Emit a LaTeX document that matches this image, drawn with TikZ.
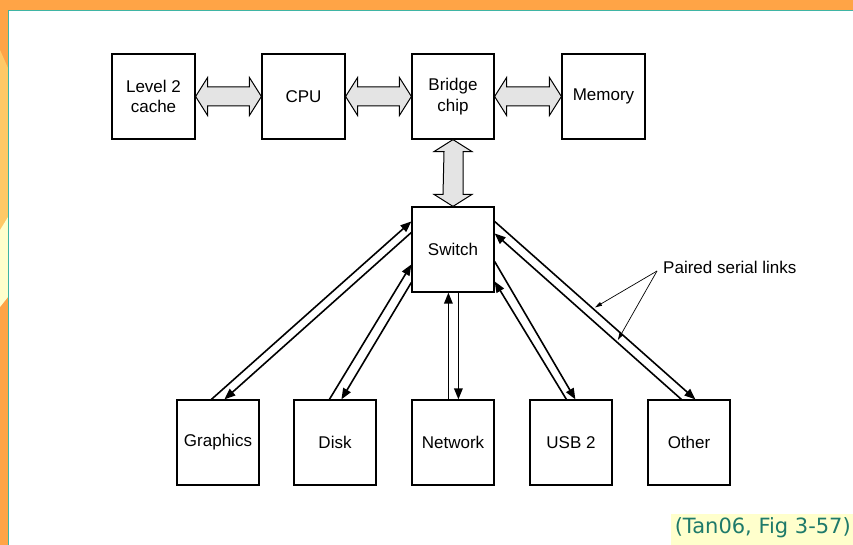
\documentclass[tikz,border=0pt]{standalone}
\usepackage{fontspec}
\setmainfont{Liberation Sans}
\newfontfamily\citefont{DejaVu Sans}
\usetikzlibrary{calc,arrows.meta}
\definecolor{frameorange}{HTML}{FFA446}
\definecolor{framelight}{HTML}{FFC966}
\definecolor{framepale}{HTML}{FFFFCC}
\definecolor{frameteal}{HTML}{3FB5A5}
\definecolor{citetext}{HTML}{1E7A6A}
\definecolor{fatgray}{HTML}{E4E4E4}
\newcommand\fatH[2]{\draw[fatarrow] (#1) -- ++(12,-19) -- ++(0,9.5) -- ($(#2)+(-12,-9.5)$) -- ++(0,-9.5) -- (#2) -- ++(-12,19) -- ++(0,-9.5) -- ($(#1)+(12,9.5)$) -- ++(0,9.5) -- cycle;}
\newcommand\fatV[2]{\draw[fatarrow] (#1) -- ++(-19,12) -- ++(10,0) -- ($(#2)+(-10,-12)$) -- ++(-9,0) -- (#2) -- ++(19,-12) -- ++(-9,0) -- ($(#1)+(10,12)$) -- ++(9,0) -- cycle;}
\begin{document}
\begin{tikzpicture}[x=1pt,y=-1pt,
  box/.style={draw, line width=1.2pt, rectangle, inner sep=0pt, minimum width=82pt, minimum height=85pt, align=center, font=\fontsize{17}{20.5}\selectfont},
  fatarrow/.style={draw, line width=1pt, fill=fatgray, line join=miter},
  link/.style={line width=1.6pt, -{Triangle[length=11pt,width=8.5pt]}},
  pointer/.style={line width=0.7pt, -{Triangle[length=7pt,width=4pt]}}]
\useasboundingbox (0,0) rectangle (853,545);
% frame
\fill[frameorange] (0,0) rectangle (853,545);
\fill[framelight] (0,50) -- (8,68) -- (8,217) -- (0,230) -- cycle;
\fill[framepale] (0,230) -- (8,217) -- (8,297) -- (0,307) -- cycle;
\fill[white] (9,11) rectangle (853,545);
\draw[frameteal, line width=1.2pt] (8.6,545) -- (8.6,10.2) -- (853,10.2);
% top row
\node[box, minimum width=83pt] (l2) at (153.5,96.5) {Level 2\\cache};
\node[box, minimum width=83pt] (cpu) at (303.5,96.5) {CPU};
\node[box] (br) at (453,96.5) {Bridge\\chip};
\node[box, minimum width=83pt] (mem) at (603.5,96.5) {Memory};
% switch
\node[box] (sw) at (453,249.5) {Switch};
% bottom row
\node[box] (gr) at (218,442.5) {Graphics};
\node[box] (dk) at (335,442.5) {Disk};
\node[box] (nw) at (453,442.5) {Network};
\node[box] (usb) at (571,442.5) {USB 2};
\node[box] (ot) at (689,442.5) {Other};
% fat arrows
\fatH{l2.east}{cpu.west}
\fatH{cpu.east}{br.west}
\fatH{br.east}{mem.west}
\fatV{br.south}{sw.north}
% serial links
\draw[link] ($(gr.north west)+(35,0)$) -- ($(sw.north west)+(0,15)$);
\draw[link] ($(sw.north west)+(0,26)$) -- ($(gr.north west)+(48,0)$);
\draw[link] ($(dk.north west)+(36,0)$) -- ($(sw.north west)+(0,58)$);
\draw[link] ($(sw.north west)+(0,76)$) -- ($(dk.north west)+(48,0)$);
\draw[link] ($(nw.north west)+(37,0)$) -- ($(sw.south west)+(37,0)$);
\draw[link] ($(sw.south west)+(47,0)$) -- ($(nw.north west)+(47,0)$);
\draw[link] ($(usb.north west)+(37,0)$) -- ($(sw.north east)+(0,75)$);
\draw[link] ($(sw.north east)+(0,55)$) -- ($(usb.north west)+(46,0)$);
\coordinate (otupA) at ($(ot.north west)+(34,0)$);
\coordinate (otupB) at ($(sw.north east)+(0,27)$);
\coordinate (otdnA) at ($(sw.north east)+(0,15)$);
\coordinate (otdnB) at ($(ot.north west)+(48,0)$);
\draw[link] (otupA) -- (otupB);
\draw[link] (otdnA) -- (otdnB);
% label
\node[anchor=west, inner sep=0pt, font=\fontsize{17}{20}\selectfont] (lbl) at (663,267) {Paired serial links};
\coordinate (lblp) at (657,271);
\coordinate (t1) at ($(otdnA)!0.5!(otdnB)+(0,-3)$);
\coordinate (t2) at ($(otupA)!0.34!(otupB)+(0,-3)$);
\draw[pointer] (lblp) -- (t1);
\draw[pointer] (lblp) -- (t2);
% citation
\fill[framepale] (671,514) rectangle (853,545);
\node[anchor=east, inner sep=0pt, text=citetext, font=\citefont\fontsize{21}{24}\selectfont] (cite) at (851,528) {(Tan06, Fig 3-57)};
\end{tikzpicture}
\end{document}
